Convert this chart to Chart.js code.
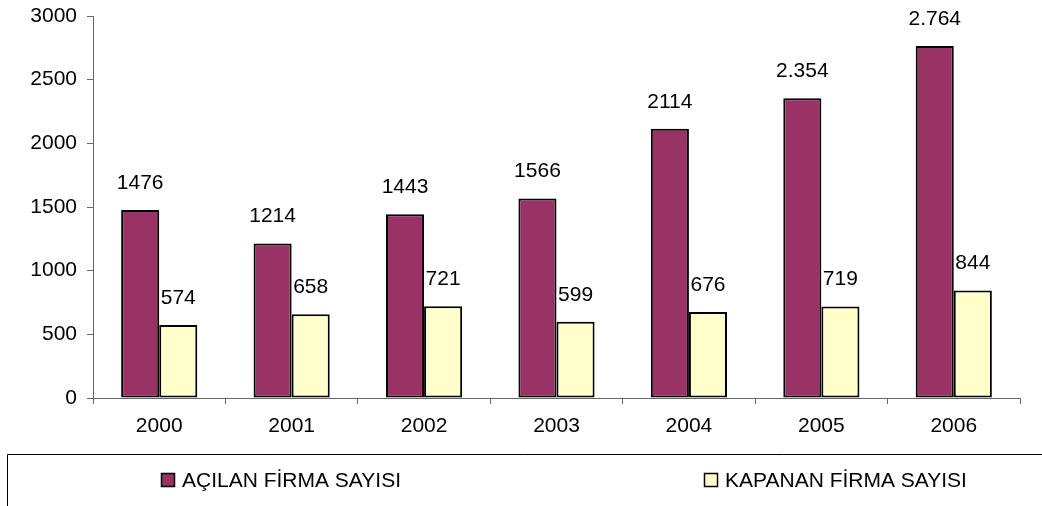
<!DOCTYPE html>
<html>
<head>
<meta charset="utf-8">
<script src="https://cdn.jsdelivr.net/npm/chart.js@4/dist/chart.umd.min.js"></script>
<style>
  html, body { margin: 0; padding: 0; background: #fff; }
  #wrap { width: 1042px; height: 506px; position: relative; }
</style>
</head>
<body>
<div id="wrap"><canvas id="c" width="1042" height="506"></canvas></div>
<script>
const categories = ["2000", "2001", "2002", "2003", "2004", "2005", "2006"];
const acilanValues = [1476, 1214, 1443, 1566, 2114, 2354, 2764];
const kapananValues = [574, 658, 721, 599, 676, 719, 844];
const acilanLabels = ["1476", "1214", "1443", "1566", "2114", "2.354", "2.764"];
const kapananLabels = ["574", "658", "721", "599", "676", "719", "844"];
const seriesNames = ["AÇILAN FİRMA SAYISI", "KAPANAN FİRMA SAYISI"];
const yTicks = [0, 500, 1000, 1500, 2000, 2500, 3000];

const FONT = "'Liberation Sans', Arial, sans-serif";

const dataLabelPlugin = {
  id: 'dataLabels',
  afterDatasetsDraw(chart) {
    const ctx = chart.ctx;
    const labelSets = [acilanLabels, kapananLabels];
    ctx.save();
    ctx.font = '21px ' + FONT;
    ctx.fillStyle = '#000';
    ctx.textAlign = 'center';
    ctx.textBaseline = 'middle';
    chart.data.datasets.forEach((ds, di) => {
      const meta = chart.getDatasetMeta(di);
      meta.data.forEach((el, i) => {
        ctx.fillText(labelSets[di][i], el.x, el.y - 27);
      });
    });
    ctx.restore();
  }
};

const legendBoxPlugin = {
  id: 'legendBox',
  afterDraw(chart) {
    const ctx = chart.ctx;
    ctx.save();
    ctx.strokeStyle = '#000';
    ctx.lineWidth = 1;
    ctx.beginPath();
    ctx.moveTo(7.5, 506);
    ctx.lineTo(7.5, 454.5);
    ctx.lineTo(1042, 454.5);
    ctx.stroke();
    const itemX = [161, 704];
    const cy = 480;
    ctx.font = '21px ' + FONT;
    ctx.textBaseline = 'middle';
    ctx.textAlign = 'left';
    chart.data.datasets.forEach((ds, i) => {
      const x = itemX[i];
      ctx.fillStyle = ds.backgroundColor;
      ctx.fillRect(x + 0.5, cy - 6.5, 13, 13);
      ctx.strokeStyle = '#000';
      ctx.lineWidth = 1.5;
      ctx.strokeRect(x + 0.5, cy - 6.5, 13, 13);
      ctx.fillStyle = '#000';
      ctx.fillText(ds.label, x + 21, cy + 1);
    });
    ctx.restore();
  }
};

new Chart(document.getElementById('c'), {
  type: 'bar',
  data: {
    labels: categories,
    datasets: [
      {
        label: seriesNames[0],
        data: acilanValues,
        backgroundColor: '#993366',
        borderColor: '#000',
        borderWidth: 2,
        borderSkipped: false,
        categoryPercentage: 0.575,
        barPercentage: 1
      },
      {
        label: seriesNames[1],
        data: kapananValues,
        backgroundColor: '#FFFFCC',
        borderColor: '#000',
        borderWidth: 2,
        borderSkipped: false,
        categoryPercentage: 0.575,
        barPercentage: 1
      }
    ]
  },
  options: {
    responsive: false,
    animation: false,
    layout: { padding: { left: 0, top: 0, right: 22, bottom: 52 } },
    plugins: {
      legend: { display: false },
      tooltip: { enabled: false }
    },
    scales: {
      x: {
        grid: {
          display: true,
          offset: true,
          drawOnChartArea: false,
          drawTicks: true,
          tickLength: 6,
          color: '#666'
        },
        border: { display: true, color: '#666', width: 1 },
        ticks: {
          color: '#000',
          font: { family: FONT, size: 21 },
          padding: 10,
          maxRotation: 0
        },
        afterFit(scale) { scale.height = 56; }
      },
      y: {
        min: 0,
        max: 3000,
        afterBuildTicks(scale) { scale.ticks = yTicks.map(v => ({ value: v })); },
        grid: {
          display: true,
          drawOnChartArea: false,
          drawTicks: true,
          tickLength: 6,
          color: '#666'
        },
        border: { display: true, color: '#666', width: 1 },
        ticks: {
          color: '#000',
          font: { family: FONT, size: 21 },
          padding: 10,
          callback: (v) => String(v)
        },
        afterFit(scale) {
          scale.width = 93;
          scale.paddingTop = 16;
          scale.paddingBottom = 0;
        }
      }
    }
  },
  plugins: [dataLabelPlugin, legendBoxPlugin]
});
</script>
</body>
</html>
